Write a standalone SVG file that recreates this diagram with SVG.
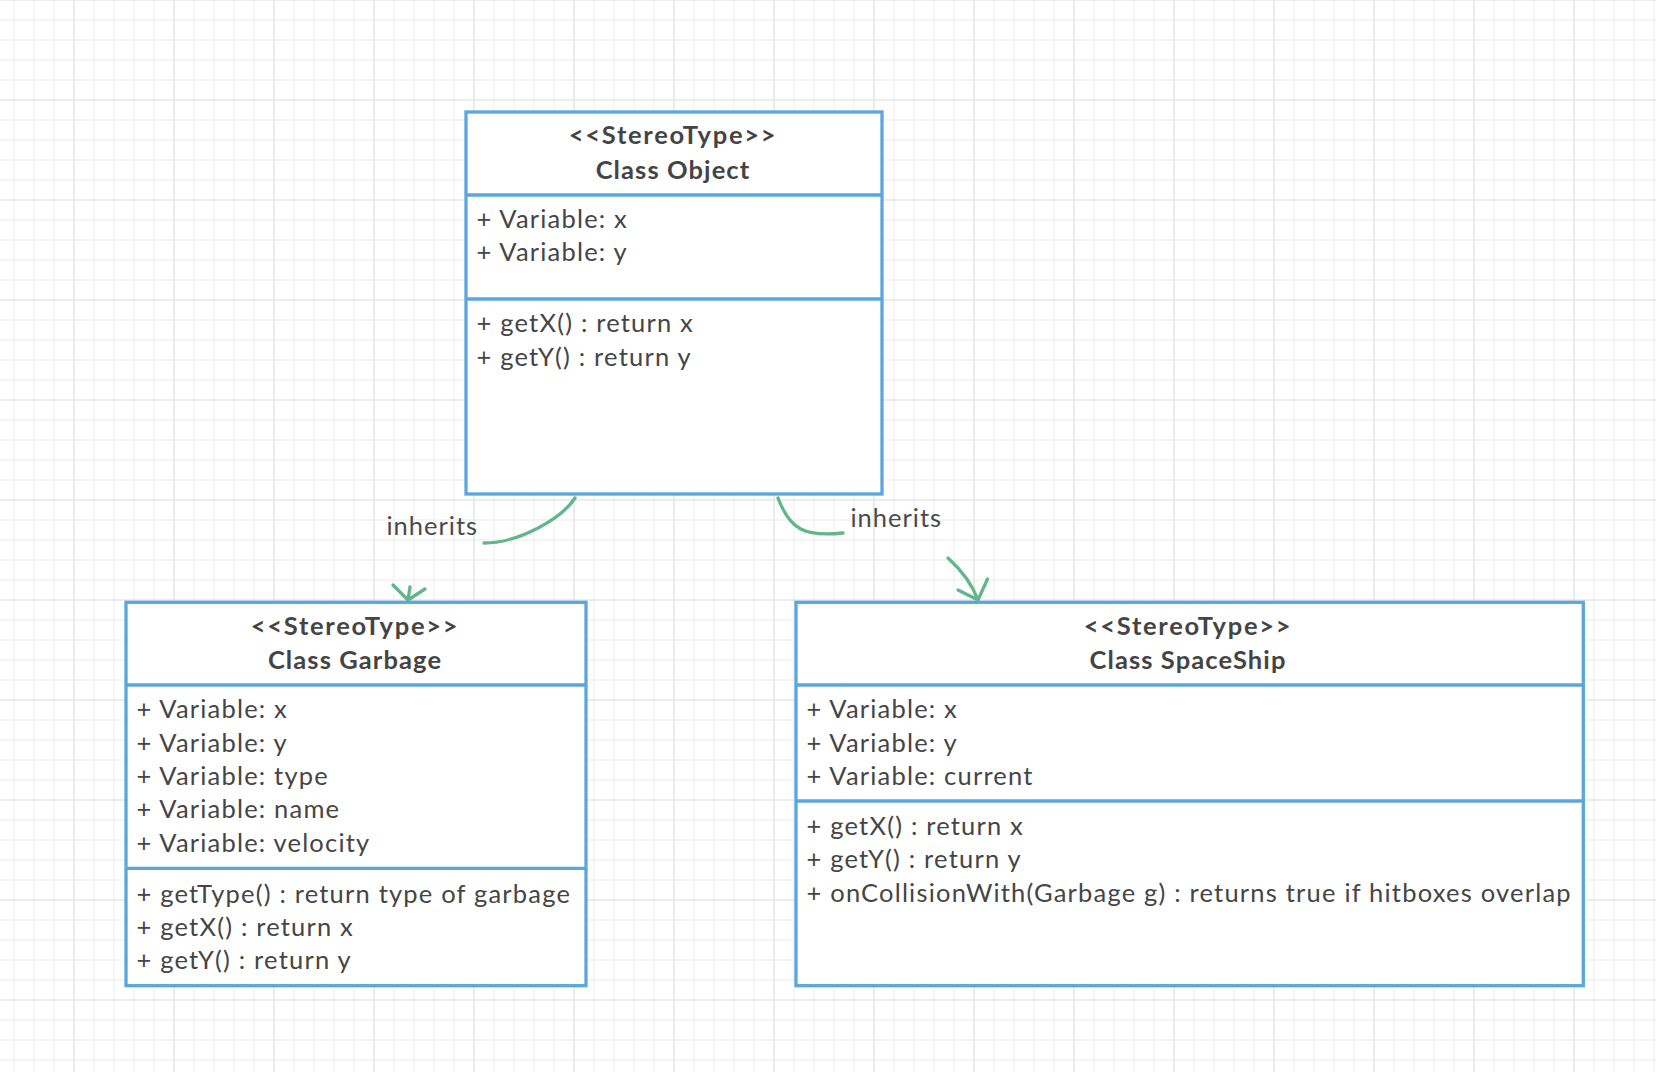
<svg xmlns="http://www.w3.org/2000/svg" width="1656" height="1072" viewBox="0 0 1656 1072">
<defs>
<pattern id="grid" x="24" y="-50" width="100" height="100" patternUnits="userSpaceOnUse">
<path d="M10,0V100M30,0V100M70,0V100M90,0V100M0,10H100M0,30H100M0,70H100M0,90H100" stroke="#f1f1f1" stroke-width="1.3" fill="none"/>
<path d="M50,0V100M0,50H100" stroke="#e6e6e6" stroke-width="1.6" fill="none"/>
</pattern>
</defs>
<style>
.box{fill:#ffffff;stroke:#5aa6dd;stroke-width:3.3}
.div{stroke:#5aa6dd;stroke-width:3.3;fill:none}
.hd{font-family:Lato,"Liberation Sans",sans-serif;font-weight:bold;font-size:25.5px;letter-spacing:1.1px;fill:#444444;text-anchor:middle}
.st{letter-spacing:1.7px}
.tx{font-family:Lato,"Liberation Sans",sans-serif;font-size:25.5px;letter-spacing:1.2px;fill:#454545}
.lbl{font-family:Lato,"Liberation Sans",sans-serif;font-size:25.5px;letter-spacing:1px;fill:#4a4a4a}
.con{fill:none;stroke:#63b58c;stroke-width:3.3;stroke-linecap:round;stroke-linejoin:round}
</style>
<rect width="1656" height="1072" fill="#ffffff"/>
<rect width="1656" height="1072" fill="url(#grid)"/>

<g id="connectors">
<path class="con" d="M575,498 C562,518 520,543 484,543"/>
<path class="con" d="M410,587 L408,600 M393,585 L408,600 L425,589"/>
<text class="lbl" x="386.5" y="535">inherits</text>
<path class="con" d="M778,498 C790,530 805,537 843,533"/>
<path class="con" d="M948,558 Q970,578 978,600 M958,590 L978,600 L987.5,579"/>
<text class="lbl" x="850.5" y="527">inherits</text>
</g>

<g id="class-object">
<rect class="box" x="466" y="112" width="416" height="382"/>
<path class="div" d="M466,195H882M466,299H882"/>
<text class="hd st" x="673" y="144">&lt;&lt;StereoType&gt;&gt;</text>
<text class="hd" x="673" y="179">Class Object</text>
<text class="tx" x="476.5" y="227.7">+ Variable: x</text>
<text class="tx" x="476.5" y="261.3">+ Variable: y</text>
<text class="tx" x="476.5" y="332.3">+ getX() : return x</text>
<text class="tx" x="476.5" y="366">+ getY() : return y</text>
</g>

<g id="class-garbage">
<rect class="box" x="126" y="602.3" width="460" height="383.4"/>
<path class="div" d="M126,685H586M126,868.3H586"/>
<text class="hd st" x="355" y="635">&lt;&lt;StereoType&gt;&gt;</text>
<text class="hd" x="355" y="669.3">Class Garbage</text>
<text class="tx" x="136.5" y="718.3">+ Variable: x</text>
<text class="tx" x="136.5" y="751.7">+ Variable: y</text>
<text class="tx" x="136.5" y="785">+ Variable: type</text>
<text class="tx" x="136.5" y="818.3">+ Variable: name</text>
<text class="tx" x="136.5" y="851.7">+ Variable: velocity</text>
<text class="tx" x="136.5" y="902.7">+ getType() : return type of garbage</text>
<text class="tx" x="136.5" y="936">+ getX() : return x</text>
<text class="tx" x="136.5" y="969.3">+ getY() : return y</text>
</g>

<g id="class-spaceship">
<rect class="box" x="796" y="602.3" width="787.3" height="383.4"/>
<path class="div" d="M796,685H1583.3M796,801H1583.3"/>
<text class="hd st" x="1188" y="635">&lt;&lt;StereoType&gt;&gt;</text>
<text class="hd" x="1188" y="669.3">Class SpaceShip</text>
<text class="tx" x="806.5" y="718.3">+ Variable: x</text>
<text class="tx" x="806.5" y="751.7">+ Variable: y</text>
<text class="tx" x="806.5" y="785">+ Variable: current</text>
<text class="tx" x="806.5" y="835">+ getX() : return x</text>
<text class="tx" x="806.5" y="868.3">+ getY() : return y</text>
<text class="tx" x="806.5" y="901.7">+ onCollisionWith(Garbage g) : returns true if hitboxes overlap</text>
</g>
</svg>
